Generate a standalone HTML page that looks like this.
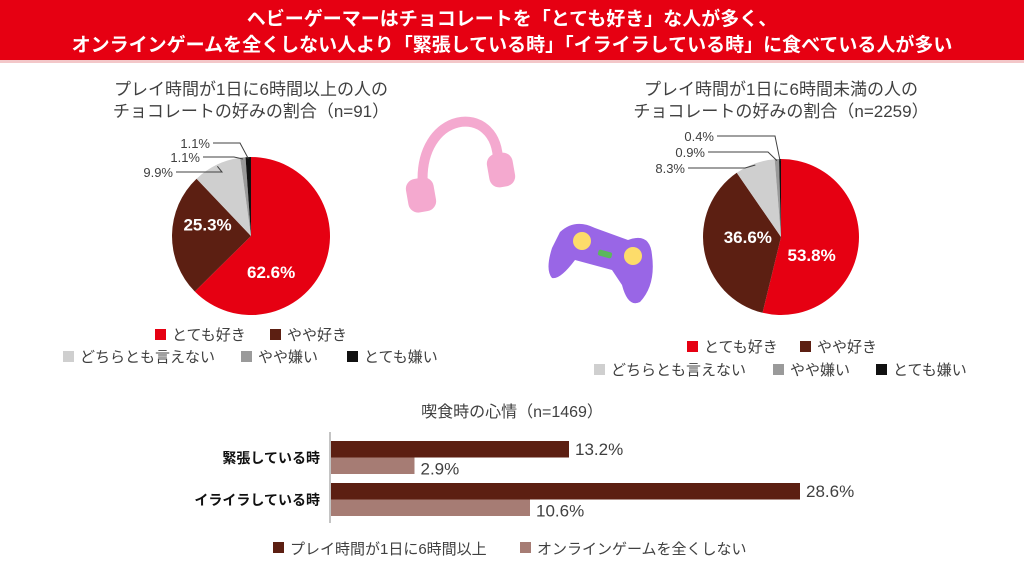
<!DOCTYPE html>
<html><head><meta charset="utf-8">
<style>
body{margin:0;width:1024px;height:557px;overflow:hidden;background:#fff;font-family:"Liberation Sans","Noto Sans CJK JP",sans-serif;}
svg text{font-family:"Liberation Sans","Noto Sans CJK JP",sans-serif;}
</style></head>
<body>
<svg id="chart" width="1024" height="557" viewBox="0 0 1024 557" xmlns="http://www.w3.org/2000/svg">
<rect x="0" y="0" width="1024" height="60" fill="#e60012"/>
<rect x="0" y="60" width="1024" height="3" fill="#f3c7c9"/>
<text x="512" y="25" text-anchor="middle" fill="#fff" font-size="19" font-weight="bold">ヘビーゲーマーはチョコレートを「とても好き」な人が多く、</text>
<text x="512" y="51" text-anchor="middle" fill="#fff" font-size="19" font-weight="bold">オンラインゲームを全くしない人より「緊張している時」「イライラしている時」に食べている人が多い</text>

<text x="251" y="95" text-anchor="middle" fill="#404040" font-size="17">プレイ時間が1日に6時間以上の人の</text>
<text x="251" y="117" text-anchor="middle" fill="#404040" font-size="17">チョコレートの好みの割合（n=91）</text>
<text x="781" y="95" text-anchor="middle" fill="#404040" font-size="17">プレイ時間が1日に6時間未満の人の</text>
<text x="781" y="117" text-anchor="middle" fill="#404040" font-size="17">チョコレートの好みの割合（n=2259）</text>

<g>
<path d="M423 188 C416 110, 498 100, 498 162" fill="none" stroke="#f4a9cf" stroke-width="10" stroke-linecap="round"/>
<rect x="407" y="178" width="28" height="34" rx="10" fill="#f4a9cf" transform="rotate(-10 421 195)"/>
<rect x="488" y="153" width="26" height="34" rx="10" fill="#f4a9cf" transform="rotate(-10 501 170)"/>
</g>
<g>
<path d="M560 232 Q575 218 595 228 L628 240 Q650 232 652 255 Q656 285 640 302 Q628 308 622 285 L612 270 L575 260 Q560 280 552 278 Q545 270 552 248 Z" fill="#9966e6"/>
<circle cx="582" cy="241" r="9" fill="#fddc6a"/>
<circle cx="633" cy="256" r="9" fill="#fddc6a"/>
<rect x="598" y="251" width="14" height="6" rx="2" fill="#5cb85c" transform="rotate(15 605 254)"/>
</g>

<g id="pie1"></g>
<g id="pie2"></g>
<g id="bars"></g>
</svg>
<script>
const categories = ["とても好き","やや好き","どちらとも言えない","やや嫌い","とても嫌い"];
const pie1Values = [62.6,25.3,9.9,1.1,1.1];
const pie2Values = [53.8,36.6,8.3,0.9,0.4];
const barCategories = ["緊張している時","イライラしている時"];
const seriesHeavy = [13.2,28.6];
const seriesNone = [2.9,10.6];
const seriesNames = ["プレイ時間が1日に6時間以上","オンラインゲームを全くしない"];
const colors = ["#e60012","#5c1f12","#cfcfcf","#9a9a9a","#111111"];
const NS="http://www.w3.org/2000/svg";
function mk(tag,attrs,parent,txt){const e=document.createElementNS(NS,tag);for(const k in attrs)e.setAttribute(k,attrs[k]);if(txt!=null)e.textContent=txt;parent.appendChild(e);return e;}
function pt(cx,cy,r,f){const a=f*2*Math.PI;return [cx+r*Math.sin(a),cy-r*Math.cos(a)];}
function drawPie(g,vals,cx,cy,r,innerLabels,smallLabels,legend){
  const tot=vals.reduce((a,b)=>a+b,0);let acc=0;
  vals.forEach((v,i)=>{
    const f0=acc/tot,f1=(acc+v)/tot;acc+=v;
    const [x0,y0]=pt(cx,cy,r,f0),[x1,y1]=pt(cx,cy,r,f1);
    const p=mk('path',{d:`M${cx} ${cy} L${x0} ${y0} A${r} ${r} 0 ${f1-f0>0.5?1:0} 1 ${x1} ${y1} Z`,fill:colors[i]},g);
    
    
    const mid=(f0+f1)/2;
    if(i<2){
      const [lx,ly]=pt(cx,cy,r*0.55,mid);
      const t=mk('text',{x:lx+innerLabels[i][0],y:ly+innerLabels[i][1],'text-anchor':'middle',fill:'#fff','font-size':'17','font-weight':'bold'},g,v.toFixed(1)+'%');
      
      
    }else{
      const s=smallLabels[i-2];
      const [ex,ey]=pt(cx,cy,r*0.98,mid);
      mk('polyline',{points:`${s[0]+3},${s[1]-5} ${s[2]},${s[1]-5} ${ex},${ey}`,fill:'none',stroke:'#404040','stroke-width':'1'},g);
      const t=mk('text',{x:s[0],y:s[1],'text-anchor':'end',fill:'#404040','font-size':'13'},g,v.toFixed(1)+'%');
      
      
    }
  });
  legend.forEach((L,i)=>{
    const r1=mk('rect',{x:L[0],y:L[1]-11,width:11,height:11,fill:colors[i]},g);
    
    
    const t=mk('text',{x:L[0]+17,y:L[1],fill:'#404040','font-size':'15'},g,categories[i]);
    
    
  });
}
drawPie(document.getElementById('pie1'),pie1Values,251,236,79,[[-20,25],[0,-5]],
  [[173,177,222],[200,162,234],[210,148,240]],
  [[155,340],[270,340],[63,362],[241,362],[347,362]]);
drawPie(document.getElementById('pie2'),pie2Values,781,237,78,[[-12,19],[9,-2]],
  [[685,173,745],[705,157,768],[714,141,775]],
  [[687,352],[800,352],[594,375],[773,375],[876,375]]);
// bars
const bg=document.getElementById('bars');
const x0=330, xs=v=>x0+40+v*15, bandY=[441,483], bh=16.5;
const tt=mk('text',{x:512,y:417,'text-anchor':'middle',fill:'#404040','font-size':'16'},bg,'喫食時の心情（n=1469）');


mk('line',{x1:x0,y1:432,x2:x0,y2:523,stroke:'#888','stroke-width':'1'},bg);
barCategories.forEach((c,i)=>{
  const t=mk('text',{x:320,y:bandY[i]+22,'text-anchor':'end',fill:'#111','font-size':'14','font-weight':'bold'},bg,c);
  
  
  [[seriesHeavy,'#5c1f12',0],[seriesNone,'#a67c74',1]].forEach(([s,col,k])=>{
    const y=bandY[i]+k*bh;
    const r=mk('rect',{x:x0+1,y:y,width:xs(s[i])-x0,height:bh,fill:col},bg);
    
    
    const v=mk('text',{x:xs(s[i])+7,y:y+14+k*3,fill:'#404040','font-size':'17'},bg,s[i].toFixed(1)+'%');
    
    
  });
});
[[273,'#5c1f12'],[520,'#a67c74']].forEach((L,k)=>{
  const r=mk('rect',{x:L[0],y:542,width:11,height:11,fill:L[1]},bg);
  
  
  const t=mk('text',{x:L[0]+17,y:554,fill:'#404040','font-size':'15'},bg,seriesNames[k]);
  
  
});
</script>
</body></html>
